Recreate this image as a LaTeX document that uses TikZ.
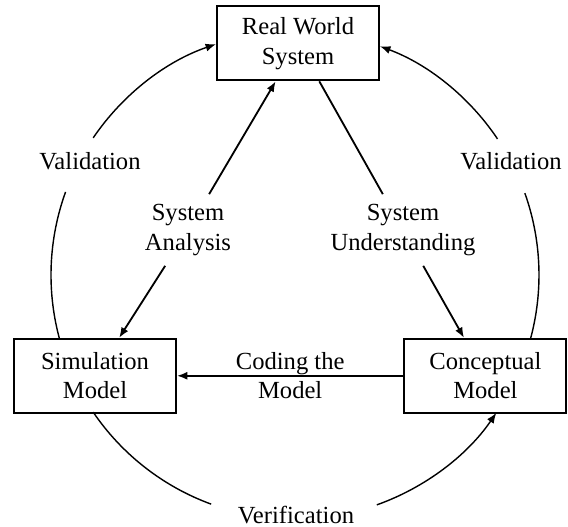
\documentclass[tikz,border=0pt]{standalone}
\usepackage{fontspec}
\setmainfont{Liberation Serif}
\usetikzlibrary{arrows, arrows.meta}

\begin{document}
\begin{tikzpicture}[
  box/.style={draw, line width=1.3pt, minimum width=4.05cm, minimum height=1.85cm,
    align=center, font=\fontsize{17.5}{21}\selectfont},
  txt/.style={align=center, inner sep=0.25cm, font=\fontsize{17.5}{21}\selectfont},
  link/.style={line width=1.3pt},
  loop/.style={line width=1pt},
  tip/.style={-{Latex[length=2.6mm, width=2mm]}}
]
  \useasboundingbox (-7.375,-6.3) rectangle (6.825,6.875);
  \coordinate (O) at (0,0);
  \def\radius{6.1cm}

  \node[box] (real) at (0.075,5.79) {Real World\\System};
  \node[box] (sim) at (-5.0,-2.52) {Simulation\\Model};
  \node[box] (concept) at (4.76,-2.52) {Conceptual\\Model};

  \node[txt] (valL) at (-5.125,2.85) {Validation};
  \node[txt] (valR) at (5.4,2.85) {Validation};
  \node[txt] (analysis) at (-2.675,1.125) {System\\Analysis};
  \node[txt] (underst) at (2.7,1.125) {System\\Understanding};
  \node[txt] (verif) at (0.025,-6.0) {Verification};

  % triangle inside
  \draw[link, tip] (analysis) -- (real);
  \draw[link, tip] (analysis) -- (sim);
  \draw[link] (underst) -- (real);
  \draw[link, tip] (underst) -- (concept);
  \draw[link, tip] (concept) -- node[align=center, font=\fontsize{17.5}{21}\selectfont] (coding) {Coding the\\Model} (sim);

  % outer circle
  \path (O) ++(195:\radius) coordinate (C1);
  \path (O) ++(145.8:\radius) coordinate (C2);
  \path (O) ++(33.9:\radius) coordinate (C3);
  \path (O) ++(-15.4:\radius) coordinate (C4);
  \path (O) ++(214.2:\radius) coordinate (C5);
  \path (O) ++(-70.4:\radius) coordinate (C6);

  \draw[loop] (C1) arc[start angle=195, end angle=160.1, radius=\radius];
  \draw[loop, tip] (C2) arc[start angle=145.8, end angle=108.9, radius=\radius];
  \draw[loop, tip] (C3) arc[start angle=33.9, end angle=69.6, radius=\radius];
  \draw[loop] (C4) arc[start angle=-15.4, end angle=19.6, radius=\radius];
  \draw[loop] (C5) arc[start angle=214.2, end angle=249.9, radius=\radius];
  \draw[loop, tip] (C6) arc[start angle=-70.4, end angle=-34.4, radius=\radius];
\end{tikzpicture}
\end{document}
